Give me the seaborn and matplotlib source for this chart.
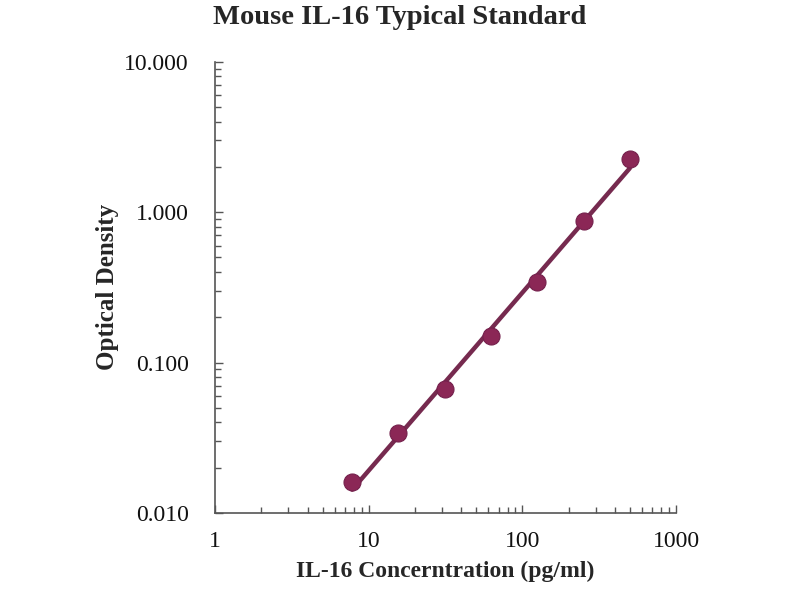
import numpy as np
import pandas as pd
import matplotlib.pyplot as plt
import matplotlib.ticker as mticker
import seaborn as sns

# standard curve values
conc = [7.8, 15.6, 31.25, 62.5, 125, 250, 500]
od = [0.016, 0.034, 0.067, 0.150, 0.345, 0.87, 2.25]
x_ticks = [1, 10, 100, 1000]
x_labels = ["1", "10", "100", "1000"]
y_ticks = [0.01, 0.1, 1, 10]
y_labels = ["0.010", "0.100", "1.000", "10.000"]

data = pd.DataFrame({"conc": conc, "od": od})

# power fit (straight line in log-log)
slope, icpt = np.polyfit(np.log10(data["conc"]), np.log10(data["od"]), 1)
data["fit"] = 10 ** (icpt + slope * np.log10(data["conc"]))

sns.set_style("white")
plt.rcParams['font.family'] = ['Liberation Serif', 'DejaVu Serif']

fig = plt.figure(figsize=(8, 6), dpi=100)
ax = fig.add_axes([0.269, 0.145, 0.576, 0.752])

sns.lineplot(x="conc", y="fit", data=data, ax=ax, color="#762A4F", linewidth=3.2, zorder=2)
sns.scatterplot(x="conc", y="od", data=data, ax=ax, color="#8B2756", s=150,
                edgecolor="#74204C", linewidth=0.8, zorder=3)

ax.set_xscale("log")
ax.set_yscale("log")
ax.set_xlim(1, 1000)
ax.set_ylim(0.01, 10)
ax.set_xticks(x_ticks)
ax.set_xticklabels(x_labels)
ax.set_yticks(y_ticks)
ax.set_yticklabels(y_labels)
ax.xaxis.set_minor_locator(mticker.LogLocator(base=10, subs=np.arange(2, 10)))
ax.yaxis.set_minor_locator(mticker.LogLocator(base=10, subs=np.arange(2, 10)))
ax.xaxis.set_minor_formatter(mticker.NullFormatter())
ax.yaxis.set_minor_formatter(mticker.NullFormatter())

sns.despine(ax=ax)
for s in ["left", "bottom"]:
    ax.spines[s].set_color("#555555")
    ax.spines[s].set_linewidth(1.2)

ax.tick_params(axis="both", which="both", direction="in", color="#555555",
               bottom=True, left=True, labelsize=17, labelcolor="#111111")
ax.tick_params(axis="both", which="major", length=6, width=1)
ax.tick_params(axis="both", which="minor", length=4, width=1)
ax.tick_params(axis="x", which="major", pad=13)
ax.tick_params(axis="y", which="major", pad=19)

ax.set_xlabel("IL-16 Concerntration (pg/ml)", fontsize=17, fontweight="bold", labelpad=6)
ax.set_ylabel("Optical Density", fontsize=18, fontweight="bold", labelpad=4)
fig.suptitle("Mouse IL-16 Typical Standard", x=0.5, y=0.992, va="top",
             fontsize=20.5, fontweight="bold")

fig.savefig("out.png", dpi=100)
